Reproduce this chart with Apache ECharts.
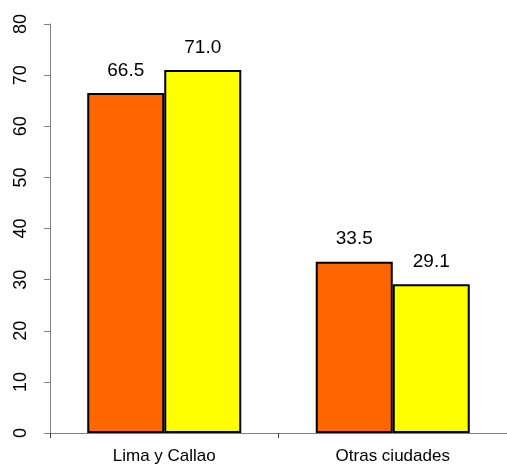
<!DOCTYPE html>
<html>
<head>
<meta charset="utf-8">
<script src="https://cdn.jsdelivr.net/npm/echarts@6/dist/echarts.min.js"></script>
<style>
  html, body { margin: 0; padding: 0; background: #fff; }
  #chart { width: 507px; height: 466px; }
</style>
</head>
<body>
<div id="chart"></div>
<script>
// Categories and the two series
const categories = ['Lima y Callao', 'Otras ciudades'];
const seriesA = [66.5, 33.5];
const seriesB = [71.0, 29.1];
const yTicks = [0, 10, 20, 30, 40, 50, 60, 70, 80];

const chart = echarts.init(document.getElementById('chart'), null, { renderer: 'canvas' });

const font = 'Arial, "Liberation Sans", sans-serif';

function barSeries(data, color) {
  return {
    type: 'bar',
    data: data,
    barWidth: 77,
    barGap: '0%',
    itemStyle: { color: color, borderColor: '#000', borderWidth: 2 },
    label: {
      show: true,
      position: 'top',
      distance: 13,
      color: '#000',
      fontFamily: font,
      fontSize: 19,
      formatter: p => p.value.toFixed(1)
    },
    emphasis: { disabled: true }
  };
}

chart.setOption({
  animation: false,
  // the plot area runs a little past the right edge of the canvas
  grid: { left: 50, width: 462, top: 24, bottom: 33, containLabel: false },
  xAxis: {
    type: 'category',
    data: categories,
    axisLine: { lineStyle: { color: '#808080', width: 1 } },
    axisTick: { show: true, length: 5, lineStyle: { color: '#404040' } },
    axisLabel: { color: '#000', fontFamily: font, fontSize: 17, margin: 15 }
  },
  yAxis: {
    type: 'value',
    min: yTicks[0],
    max: yTicks[yTicks.length - 1],
    interval: 10,
    splitLine: { show: false },
    axisLine: { show: true, lineStyle: { color: '#808080', width: 1 } },
    axisTick: { show: true, length: 6, lineStyle: { color: '#808080' } },
    axisLabel: {
      color: '#000',
      fontFamily: font,
      fontSize: 18,
      rotate: 90,
      margin: 20
    }
  },
  series: [barSeries(seriesA, '#FF6600'), barSeries(seriesB, '#FFFF00')]
});
</script>
</body>
</html>
